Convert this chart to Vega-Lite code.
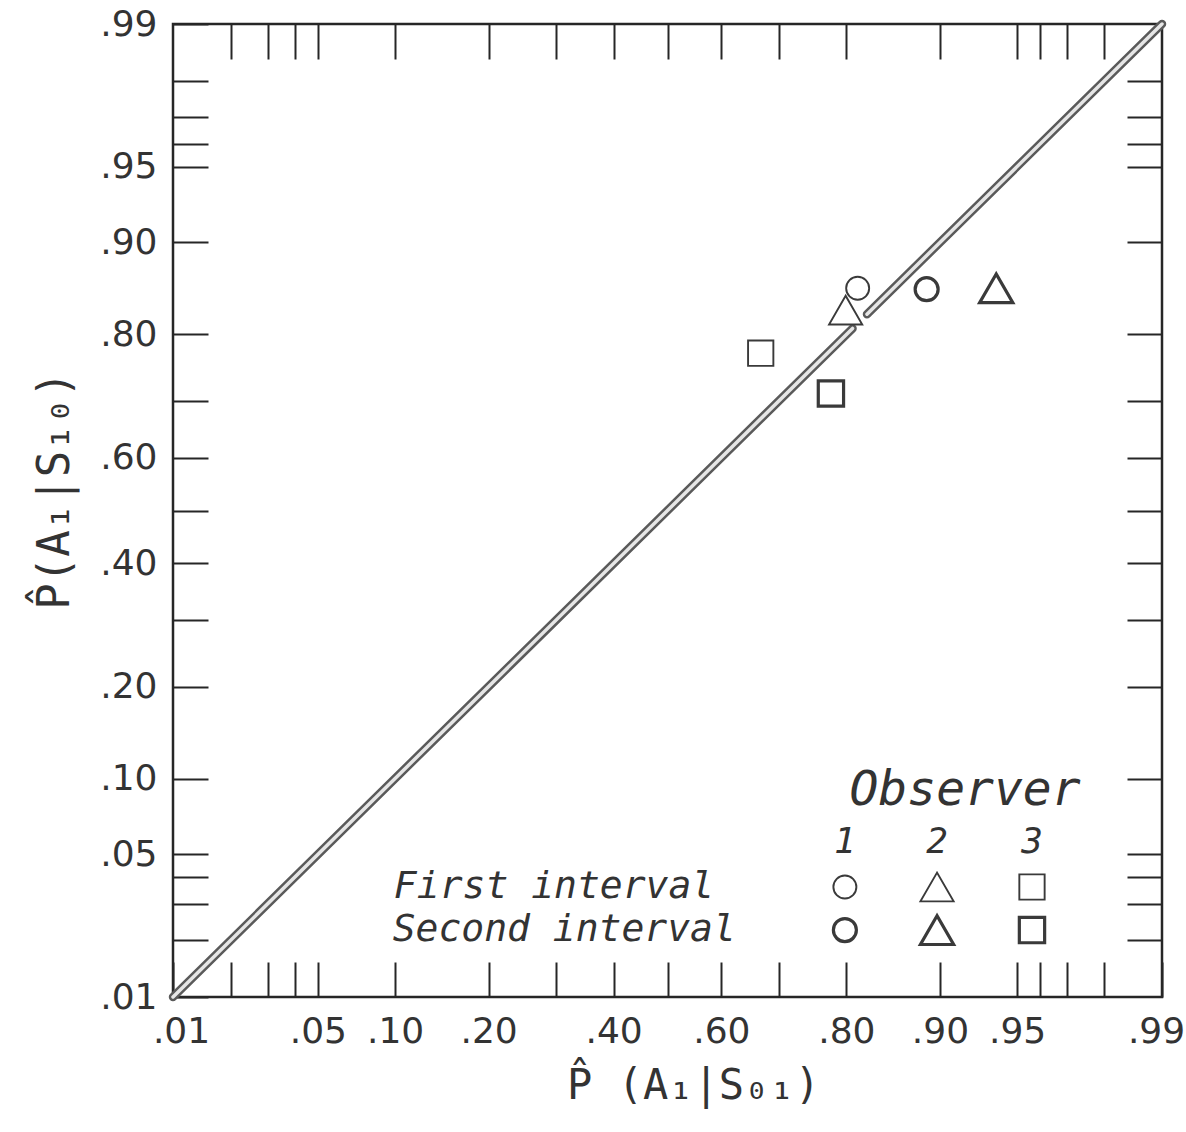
{
  "$schema": "https://vega.github.io/schema/vega-lite/v6.json",
  "width": 989,
  "height": 973,
  "autosize": {"type": "none"},
  "padding": {"left": 173, "top": 24, "right": 24, "bottom": 135},
  "background": "white",
  "config": {
    "view": {"stroke": "#262626", "strokeWidth": 2.5},
    "font": "DejaVu Sans Mono",
    "axis": {
      "domain": false,
      "grid": false,
      "tickSize": -35,
      "tickWidth": 2,
      "tickColor": "#262626",
      "labelFont": "DejaVu Sans",
      "labelFontSize": 36,
      "labelColor": "#333333",
      "labelOverlap": false,
      "labelBound": false,
      "labelFlush": false,
      "titleFont": "DejaVu Sans Mono",
      "titleFontSize": 42,
      "titleFontWeight": "normal",
      "titleColor": "#333333"
    }
  },
  "datasets": {
    "points": [
      {"observer": "1", "interval": "First", "px": 0.8145, "py": 0.856},
      {"observer": "1", "interval": "Second", "px": 0.8886, "py": 0.855},
      {"observer": "2", "interval": "First", "px": 0.799, "py": 0.831},
      {"observer": "2", "interval": "Second", "px": 0.939, "py": 0.856},
      {"observer": "3", "interval": "First", "px": 0.6695, "py": 0.774},
      {"observer": "3", "interval": "Second", "px": 0.779, "py": 0.712}
    ],
    "diag": [
      {"seg": "A", "p": 0.01},
      {"seg": "A", "p": 0.808},
      {"seg": "B", "p": 0.826},
      {"seg": "B", "p": 0.99}
    ],
    "legendSymbols": [
      {"observer": "1", "interval": "First", "px": 0.798, "py": 0.0359},
      {"observer": "2", "interval": "First", "px": 0.8976, "py": 0.0359},
      {"observer": "3", "interval": "First", "px": 0.9568, "py": 0.0359},
      {"observer": "1", "interval": "Second", "px": 0.798, "py": 0.0224},
      {"observer": "2", "interval": "Second", "px": 0.8976, "py": 0.0224},
      {"observer": "3", "interval": "Second", "px": 0.9568, "py": 0.0224}
    ],
    "legendText": [
      {"kind": "head", "text": "Observer", "px": 0.9192, "py": 0.09},
      {"kind": "num", "text": "1", "px": 0.798, "py": 0.0565},
      {"kind": "num", "text": "2", "px": 0.8976, "py": 0.0565},
      {"kind": "num", "text": "3", "px": 0.9568, "py": 0.0565},
      {"kind": "row", "text": "First interval", "px": 0.099, "py": 0.0359},
      {"kind": "row", "text": "Second interval", "px": 0.098, "py": 0.0224}
    ]
  },
  "layer": [
    {
      "data": {"name": "diag"},
      "transform": [{"calculate": "quantileNormal(datum.p)", "as": "z"}],
      "mark": {"type": "line", "color": "#5a5a5a", "strokeWidth": 8.5, "strokeCap": "round"},
      "encoding": {
        "x": {
          "field": "z", "type": "quantitative",
          "scale": {"domain": [-2.3263479, 2.3263479], "nice": false, "zero": false},
          "axis": {
            "orient": "bottom",
            "values": {"expr": "[quantileNormal(0.01),quantileNormal(0.02),quantileNormal(0.03),quantileNormal(0.04),quantileNormal(0.05),quantileNormal(0.10),quantileNormal(0.20),quantileNormal(0.30),quantileNormal(0.40),quantileNormal(0.50),quantileNormal(0.60),quantileNormal(0.70),quantileNormal(0.80),quantileNormal(0.90),quantileNormal(0.95),quantileNormal(0.96),quantileNormal(0.97),quantileNormal(0.98),quantileNormal(0.99)]"},
            "labelExpr": "indexof([1,5,10,20,40,60,80,90,95,99], round(cumulativeNormal(datum.value)*100)) >= 0 ? substring(format(cumulativeNormal(datum.value), '.2f'), 1) : ''",
            "labelPadding": 52,
            "labelBaseline": "top",
            "labelOffset": {"condition": [{"test": "datum.value > 2.3", "value": -6}, {"test": "datum.value < -2.3", "value": 8}], "value": 0},
            "title": "P̂ (A₁|S₀₁)",
            "titlePadding": 16,
            "titleX": 520
          }
        },
        "y": {
          "field": "z", "type": "quantitative",
          "scale": {"domain": [-2.3263479, 2.3263479], "nice": false, "zero": false},
          "axis": {
            "orient": "left",
            "values": {"expr": "[quantileNormal(0.01),quantileNormal(0.02),quantileNormal(0.03),quantileNormal(0.04),quantileNormal(0.05),quantileNormal(0.10),quantileNormal(0.20),quantileNormal(0.30),quantileNormal(0.40),quantileNormal(0.50),quantileNormal(0.60),quantileNormal(0.70),quantileNormal(0.80),quantileNormal(0.90),quantileNormal(0.95),quantileNormal(0.96),quantileNormal(0.97),quantileNormal(0.98),quantileNormal(0.99)]"},
            "labelExpr": "indexof([1,5,10,20,40,60,80,90,95,99], round(cumulativeNormal(datum.value)*100)) >= 0 ? substring(format(cumulativeNormal(datum.value), '.2f'), 1) : ''",
            "labelPadding": 51,
            "labelBaseline": "middle",
            "title": "P̂(A₁|S₁₀)",
            "titleFontSize": 44,
            "titlePadding": 22,
            "titleY": 466
          }
        },
        "detail": {"field": "seg"}
      }
    },
    {
      "data": {"name": "diag"},
      "transform": [{"calculate": "quantileNormal(datum.p)", "as": "z"}],
      "mark": {"type": "line", "color": "#e6e6e6", "strokeWidth": 3.5, "strokeCap": "round"},
      "encoding": {
        "x": {
          "field": "z", "type": "quantitative",
          "scale": {"domain": [-2.3263479, 2.3263479], "nice": false, "zero": false},
          "axis": {
            "orient": "top",
            "values": {"expr": "[quantileNormal(0.02),quantileNormal(0.03),quantileNormal(0.04),quantileNormal(0.05),quantileNormal(0.10),quantileNormal(0.20),quantileNormal(0.30),quantileNormal(0.40),quantileNormal(0.50),quantileNormal(0.60),quantileNormal(0.70),quantileNormal(0.80),quantileNormal(0.90),quantileNormal(0.95),quantileNormal(0.96),quantileNormal(0.97),quantileNormal(0.98)]"},
            "labels": false,
            "title": null
          }
        },
        "y": {
          "field": "z", "type": "quantitative",
          "scale": {"domain": [-2.3263479, 2.3263479], "nice": false, "zero": false},
          "axis": {
            "orient": "right",
            "values": {"expr": "[quantileNormal(0.02),quantileNormal(0.03),quantileNormal(0.04),quantileNormal(0.05),quantileNormal(0.10),quantileNormal(0.20),quantileNormal(0.30),quantileNormal(0.40),quantileNormal(0.50),quantileNormal(0.60),quantileNormal(0.70),quantileNormal(0.80),quantileNormal(0.90),quantileNormal(0.95),quantileNormal(0.96),quantileNormal(0.97),quantileNormal(0.98)]"},
            "labels": false,
            "title": null
          }
        },
        "detail": {"field": "seg"}
      }
    },
    {
      "data": {"name": "points"},
      "transform": [
        {"calculate": "quantileNormal(datum.px)", "as": "zx"},
        {"calculate": "quantileNormal(datum.py)", "as": "zy"}
      ],
      "mark": {"type": "point", "filled": false, "color": "#3a3a3a", "opacity": 1},
      "encoding": {
        "x": {"field": "zx", "type": "quantitative", "axis": null},
        "y": {"field": "zy", "type": "quantitative", "axis": null},
        "shape": {"field": "observer", "type": "nominal", "scale": {"domain": ["1", "2", "3"], "range": ["circle", "triangle-up", "square"]}, "legend": null},
        "size": {"field": "observer", "type": "nominal", "scale": {"type": "ordinal", "domain": ["1", "2", "3"], "range": [529, 1100, 640]}, "legend": null},
        "strokeWidth": {"field": "interval", "type": "nominal", "scale": {"type": "ordinal", "domain": ["First", "Second"], "range": [1.9, 3.2]}, "legend": null}
      }
    },
    {
      "data": {"name": "legendSymbols"},
      "transform": [
        {"calculate": "quantileNormal(datum.px)", "as": "zx"},
        {"calculate": "quantileNormal(datum.py)", "as": "zy"}
      ],
      "mark": {"type": "point", "filled": false, "color": "#3a3a3a", "opacity": 1},
      "encoding": {
        "x": {"field": "zx", "type": "quantitative", "axis": null},
        "y": {"field": "zy", "type": "quantitative", "axis": null},
        "shape": {"field": "observer", "type": "nominal", "scale": {"domain": ["1", "2", "3"], "range": ["circle", "triangle-up", "square"]}, "legend": null},
        "size": {"field": "observer", "type": "nominal", "scale": {"type": "ordinal", "domain": ["1", "2", "3"], "range": [529, 1100, 640]}, "legend": null},
        "strokeWidth": {"field": "interval", "type": "nominal", "scale": {"type": "ordinal", "domain": ["First", "Second"], "range": [1.9, 3.2]}, "legend": null}
      }
    },
    {
      "data": {"name": "legendText"},
      "transform": [
        {"filter": "datum.kind === 'head'"},
        {"calculate": "quantileNormal(datum.px)", "as": "zx"},
        {"calculate": "quantileNormal(datum.py)", "as": "zy"}
      ],
      "mark": {"type": "text", "font": "DejaVu Sans Mono", "fontStyle": "italic", "fontSize": 48, "color": "#333333", "align": "center", "baseline": "middle"},
      "encoding": {
        "x": {"field": "zx", "type": "quantitative", "axis": null},
        "y": {"field": "zy", "type": "quantitative", "axis": null},
        "text": {"field": "text"}
      }
    },
    {
      "data": {"name": "legendText"},
      "transform": [
        {"filter": "datum.kind === 'num'"},
        {"calculate": "quantileNormal(datum.px)", "as": "zx"},
        {"calculate": "quantileNormal(datum.py)", "as": "zy"}
      ],
      "mark": {"type": "text", "font": "DejaVu Sans Mono", "fontStyle": "italic", "fontSize": 36, "color": "#333333", "align": "center", "baseline": "middle"},
      "encoding": {
        "x": {"field": "zx", "type": "quantitative", "axis": null},
        "y": {"field": "zy", "type": "quantitative", "axis": null},
        "text": {"field": "text"}
      }
    },
    {
      "data": {"name": "legendText"},
      "transform": [
        {"filter": "datum.kind === 'row'"},
        {"calculate": "quantileNormal(datum.px)", "as": "zx"},
        {"calculate": "quantileNormal(datum.py)", "as": "zy"}
      ],
      "mark": {"type": "text", "font": "DejaVu Sans Mono", "fontStyle": "italic", "fontSize": 38, "color": "#333333", "align": "left", "baseline": "middle"},
      "encoding": {
        "x": {"field": "zx", "type": "quantitative", "axis": null},
        "y": {"field": "zy", "type": "quantitative", "axis": null},
        "text": {"field": "text"}
      }
    }
  ],
  "resolve": {"axis": {"x": "independent", "y": "independent"}}
}
